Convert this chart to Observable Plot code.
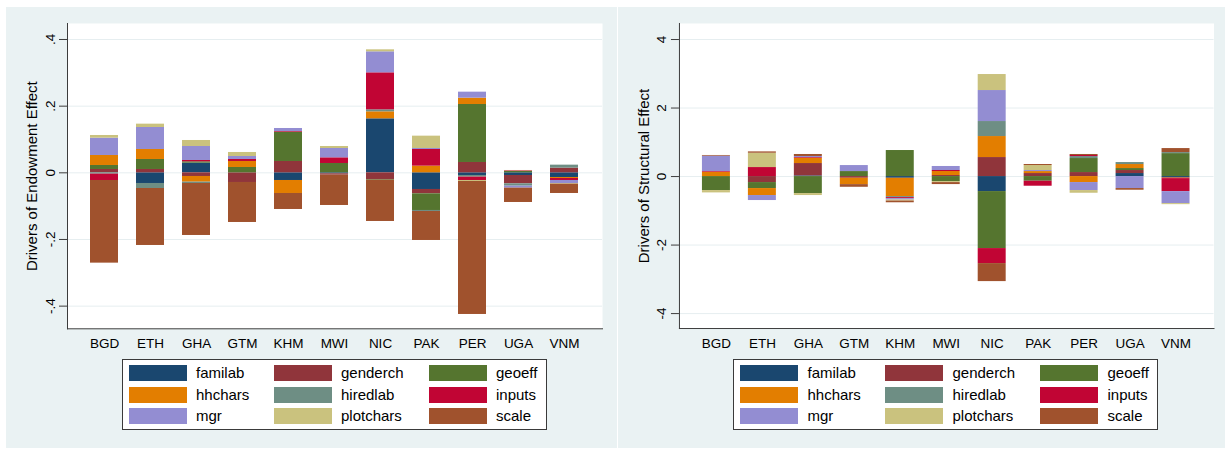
<!DOCTYPE html>
<html><head><meta charset="utf-8">
<script src="https://cdn.jsdelivr.net/npm/d3@7"></script>
<script src="https://cdn.jsdelivr.net/npm/@observablehq/plot@0.6"></script>
<style>
body{margin:0;background:#fff;width:1228px;height:449px;position:relative;overflow:hidden;font-family:"Liberation Sans",Arial,Helvetica,sans-serif;}
.panel{position:absolute;background:#eaf2f3;}
.plot{position:absolute;}
.legend{position:absolute;background:#fff;border:1px solid #3a3a3a;box-sizing:border-box;}
.sw{position:absolute;width:58px;height:16px;}
.lt{position:absolute;font-size:15px;line-height:16px;color:#000;white-space:nowrap;}
</style></head><body>
<script>
// ---------- data ----------
const countries = ["BGD","ETH","GHA","GTM","KHM","MWI","NIC","PAK","PER","UGA","VNM"];
const factors = ["familab","genderch","geoeff","hhchars","hiredlab","inputs","mgr","plotchars","scale"];
const factorColors = ["#1a476f","#90353b","#55752f","#e37e00","#6e8e84","#c10534","#938dd2","#cac27e","#a0522d"];

// Endowment effect drivers (left panel), one value per country
const endowFamilab   = [0, -0.032, 0.029, 0, -0.023, -0.003, 0.162, -0.050, -0.008, -0.008, -0.014];
const endowGenderch  = [0.010, 0.010, -0.011, -0.029, 0.034, -0.004, -0.020, -0.013, 0.031, -0.025, 0.014];
const endowGeoeff    = [0.012, 0.030, 0.004, 0.016, 0.088, 0.028, -0.002, -0.050, 0.174, 0.004, 0];
const endowHhchars   = [0.030, 0.030, -0.017, 0.018, -0.039, 0, 0.021, 0.020, 0.019, 0, -0.003];
const endowHiredlab  = [-0.004, -0.015, -0.004, 0, 0, 0, 0.006, -0.003, -0.005, -0.007, 0.009];
const endowInputs    = [-0.019, 0, 0.004, 0.006, 0.002, 0.017, 0.111, 0.050, -0.010, 0.002, -0.006];
const endowMgr       = [0.052, 0.066, 0.042, 0.009, 0.009, 0.028, 0.063, 0.003, 0.018, -0.006, -0.009];
const endowPlotchars = [0.008, 0.010, 0.018, 0.012, 0, 0.006, 0.006, 0.037, -0.003, 0.001, -0.002];
const endowScale     = [-0.248, -0.171, -0.156, -0.120, -0.048, -0.091, -0.124, -0.087, -0.399, -0.043, -0.028];

// Structural effect drivers (right panel)
const structFamilab   = [0, 0, 0.02, 0, -0.05, 0, -0.438, 0, 0, 0.088, -0.03];
const structGenderch  = [0, -0.175, 0.36, -0.05, 0, 0.03, 0.555, 0.088, 0.117, 0.088, -0.02];
const structGeoeff    = [-0.409, -0.175, -0.496, 0.146, 0.76, -0.146, -1.664, -0.136, 0.409, 0.058, 0.67];
const structHhchars   = [0.127, -0.204, 0.156, -0.185, -0.535, 0.117, 0.613, 0.058, -0.175, 0.117, -0.01];
const structHiredlab  = [0, 0, 0, 0, -0.03, 0, 0.438, 0, 0.058, 0.058, 0.03];
const structInputs    = [0.02, 0.263, 0.02, 0, -0.03, 0.03, -0.438, -0.146, 0.03, 0, -0.38];
const structMgr       = [0.448, -0.146, 0.03, 0.175, -0.04, 0.117, 0.905, 0.03, -0.234, -0.35, -0.35];
const structPlotchars = [-0.068, 0.418, -0.058, 0, -0.03, -0.03, 0.467, 0.146, -0.078, 0, -0.03];
const structScale     = [0.02, 0.039, 0.058, -0.078, -0.05, -0.058, -0.526, 0.03, 0.03, -0.049, 0.117];

const endowTicks = [-0.4, -0.2, 0, 0.2, 0.4];
const endowTickLabels = ["-.4", "-.2", "0", ".2", ".4"];
const structTicks = [-4, -2, 0, 2, 4];
const structTickLabels = ["-4", "-2", "0", "2", "4"];

const endowTitle = "Drivers of Endowment Effect";
const structTitle = "Drivers of Structural Effect";

// ---------- build ----------
const endowSeries = [endowFamilab, endowGenderch, endowGeoeff, endowHhchars, endowHiredlab, endowInputs, endowMgr, endowPlotchars, endowScale];
const structSeries = [structFamilab, structGenderch, structGeoeff, structHhchars, structHiredlab, structInputs, structMgr, structPlotchars, structScale];

const FONT = '"Liberation Sans", Arial, Helvetica, sans-serif';

function makePanel(series, ticks, tickLabels, yDomain, title) {
  const data = factors.flatMap((f, i) => countries.map((c, j) => ({country: c, factor: f, value: series[i][j]})));
  return Plot.plot({
    width: 611, height: 350,
    marginLeft: 61, marginRight: 15, marginTop: 16, marginBottom: 28.7,
    style: {background: "transparent", fontFamily: FONT, overflow: "visible", color: "#000"},
    x: {domain: countries, paddingInner: 0.39, paddingOuter: 0.445, label: null},
    y: {domain: yDomain, label: null},
    color: {domain: factors, range: factorColors},
    marks: [
      Plot.frame({fill: "white", stroke: null}),
      Plot.gridY(ticks, {stroke: "#e6eef0", strokeOpacity: 1, strokeWidth: 1}),
      Plot.barY(data, Plot.stackY({x: "country", y: "value", fill: "factor"})),
      Plot.frame({anchor: "left", stroke: "#3c3c3c"}),
      Plot.frame({anchor: "bottom", stroke: "#3c3c3c"}),
      Plot.axisY(ticks, {
        tickFormat: d => tickLabels[ticks.indexOf(d)],
        tickRotate: -90, tickSize: 8, tickPadding: 5, fontSize: 13.5,
        label: null, stroke: "#3c3c3c"
      }),
      Plot.axisX({tickSize: 0, tickPadding: 10, fontSize: 13.5, label: null}),
      Plot.text([title], {frameAnchor: "left", textAnchor: "middle", lineAnchor: "middle", rotate: -90, dx: -35, fontSize: 15, fill: "#000"})
    ]
  });
}

function addPanel(left, width, series, ticks, tickLabels, yDomain, title) {
  const bg = document.createElement("div");
  bg.className = "panel";
  bg.style.left = left + "px"; bg.style.top = "7px";
  bg.style.width = width + "px"; bg.style.height = "441px";
  document.body.appendChild(bg);

  const holder = document.createElement("div");
  holder.className = "plot";
  holder.style.left = left + "px"; holder.style.top = "7px";
  holder.appendChild(makePanel(series, ticks, tickLabels, yDomain, title));
  document.body.appendChild(holder);

  // legend
  const lg = document.createElement("div");
  lg.className = "legend";
  lg.style.left = (left + 115.7) + "px"; lg.style.top = "359px";
  lg.style.width = "425px"; lg.style.height = "71px";
  const colX = [6.3, 151.3, 306.3];
  const rowY = [5, 27, 48];
  factors.forEach((f, i) => {
    const r = Math.floor(i / 3), c = i % 3;
    const sw = document.createElement("div");
    sw.className = "sw";
    sw.style.left = colX[c] + "px"; sw.style.top = rowY[r] + "px";
    sw.style.background = factorColors[i];
    lg.appendChild(sw);
    const t = document.createElement("div");
    t.className = "lt";
    t.style.left = (colX[c] + 67) + "px"; t.style.top = rowY[r] + "px";
    t.textContent = f;
    lg.appendChild(t);
  });
  document.body.appendChild(lg);
}

addPanel(6, 611, endowSeries, endowTicks, endowTickLabels, [-0.468, 0.448], endowTitle);
addPanel(617.5, 607.5, structSeries, structTicks, structTickLabels, [-4.436, 4.468], structTitle);
</script>
</body></html>
